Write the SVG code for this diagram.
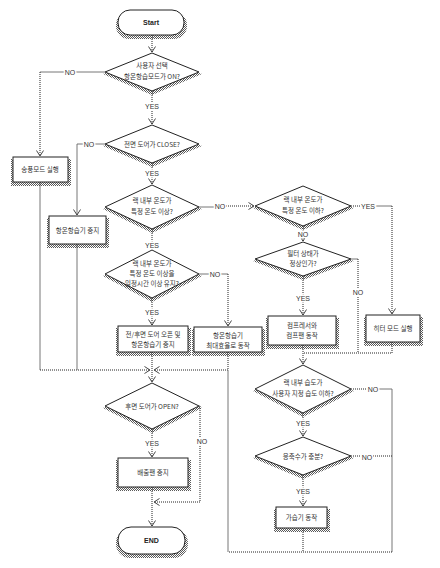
<svg xmlns="http://www.w3.org/2000/svg" width="440" height="568" viewBox="0 0 440 568">
<defs>
<pattern id="dots" width="2" height="2" patternUnits="userSpaceOnUse"><rect width="1" height="1" fill="#222"/><rect x="1" y="1" width="1" height="1" fill="#222"/></pattern>
<marker id="ar" markerWidth="8" markerHeight="8" refX="6" refY="4" orient="auto" markerUnits="userSpaceOnUse"><path d="M0.5,0.5 L6,4 L0.5,7.5" fill="none" stroke="#333" stroke-width="0.9"/></marker>
</defs>
<style>
.sh{fill:url(#dots);opacity:0.75}
.nd{fill:#fff;stroke:#222;stroke-width:1}
.t{font-family:"Noto Sans CJK KR","Noto Sans",sans-serif;font-size:6.5px;fill:#333;text-anchor:middle}
.b{font-family:"Liberation Sans",sans-serif;font-size:7px;font-weight:bold;fill:#222;text-anchor:middle}
.l{font-family:"Liberation Sans",sans-serif;font-size:7px;fill:#333;text-anchor:middle;stroke:#fff;stroke-width:3;paint-order:stroke}
.c{fill:none;stroke:#666;stroke-width:0.9}
.d{fill:none;stroke:#222;stroke-width:1;stroke-dasharray:1 1}
</style>
<rect width="440" height="568" fill="#fff"/>
<g id="connectors">
<path class="d" d="M152,35 V52" marker-end="url(#ar)"/>
<path class="d" d="M152,91 V124" marker-end="url(#ar)"/>
<path class="d" d="M152,163 V184" marker-end="url(#ar)"/>
<path class="d" d="M152,229 V249" marker-end="url(#ar)"/>
<path class="d" d="M152,298 V325" marker-end="url(#ar)"/>
<path class="d" d="M152,352 V382" marker-end="url(#ar)"/>
<path class="d" d="M152,429 V457" marker-end="url(#ar)"/>
<path class="d" d="M152,487 V526" marker-end="url(#ar)"/>
<path class="c" d="M105,72 H40"/>
<path class="d" d="M40,72 V156" marker-end="url(#ar)"/>
<path class="c" d="M40,182 V370"/>
<path class="d" d="M40,370 H150" marker-end="url(#ar)"/>
<path class="c" d="M105,144 H77 V215" marker-end="url(#ar)"/>
<path class="c" d="M77,244 V370"/>
<path class="c" d="M199,207 H220"/>
<path class="d" d="M220,206 H254" marker-end="url(#ar)"/>
<path class="c" d="M199,274 H228"/>
<path class="d" d="M228,274 V326" marker-end="url(#ar)"/>
<path class="d" d="M228,352 V370 H154" marker-end="url(#ar)"/>
<path class="d" d="M351,206 H376"/>
<path class="c" d="M376,206 H392"/>
<path class="d" d="M392,206 V314" marker-end="url(#ar)"/>
<path class="d" d="M303,226 V241" marker-end="url(#ar)"/>
<path class="d" d="M303,276 V315" marker-end="url(#ar)"/>
<path class="c" d="M351,259 H358"/>
<path class="d" d="M358,259 V353"/>
<path class="d" d="M392,342 V353 H303"/>
<path class="d" d="M303,345 V364" marker-end="url(#ar)"/>
<path class="d" d="M303,413 V436" marker-end="url(#ar)"/>
<path class="d" d="M303,475 V506" marker-end="url(#ar)"/>
<path class="d" d="M351,389 H375"/>
<path class="c" d="M375,389 H392 V552"/>
<path class="d" d="M351,456 H392"/>
<path class="d" d="M303,528 V552"/>
<path class="d" d="M392,552 H228"/>
<path class="c" d="M228,552 V370"/>
<path class="c" d="M199,406 H200"/>
<path class="d" d="M200,406 V502 H154" marker-end="url(#ar)"/>
<text class="l" x="70" y="74.5">NO</text>
<text class="l" x="152" y="108.5">YES</text>
<text class="l" x="89" y="146.5">NO</text>
<text class="l" x="152" y="175.5">YES</text>
<text class="l" x="220" y="208.5">NO</text>
<text class="l" x="152" y="247.5">YES</text>
<text class="l" x="215" y="276.5">NO</text>
<text class="l" x="152" y="314.5">YES</text>
<text class="l" x="152" y="445.5">YES</text>
<text class="l" x="202" y="443.5">NO</text>
<text class="l" x="368" y="208.5">YES</text>
<text class="l" x="303" y="236.5">NO</text>
<text class="l" x="358" y="294.5">NO</text>
<text class="l" x="303" y="300.5">YES</text>
<text class="l" x="373" y="391.5">NO</text>
<text class="l" x="303" y="425.5">YES</text>
<text class="l" x="367" y="459.5">NO</text>
<text class="l" x="303" y="493.5">YES</text>
</g>
<g id="start">
<rect class="sh" x="116" y="12" width="71" height="27" rx="13"/>
<rect class="nd" x="118" y="10" width="66" height="25" rx="12"/>
<text class="b" x="151" y="25">Start</text>
</g>
<g id="d1">
<polygon class="sh" points="103,74 152,55 202,74 152,95"/>
<polygon class="nd" points="105,72 152,53 199,72 152,91"/>
<text class="t" x="152" y="68">사용자 선택</text>
<text class="t" x="152" y="79">항온항습모드가 ON?</text>
</g>
<g id="fan-mode">
<rect class="sh" x="11" y="159" width="60" height="27"/>
<rect class="nd" x="13" y="157" width="55" height="25"/>
<text class="t" x="40" y="172">송풍모드 실행</text>
</g>
<g id="d2">
<polygon class="sh" points="103,146 152,127 202,146 152,167"/>
<polygon class="nd" points="105,144 152,125 199,144 152,163"/>
<text class="t" x="152" y="146.5">전면 도어가 CLOSE?</text>
</g>
<g id="hvac-stop">
<rect class="sh" x="47" y="218" width="62" height="30"/>
<rect class="nd" x="49" y="216" width="57" height="28"/>
<text class="t" x="77.5" y="232.5">항온항습기 중지</text>
</g>
<g id="d3">
<polygon class="sh" points="103,209 152,187 202,209 152,233"/>
<polygon class="nd" points="105,207 152,185 199,207 152,229"/>
<text class="t" x="152" y="203">랙 내부 온도가</text>
<text class="t" x="152" y="214">특정 온도 이상?</text>
</g>
<g id="d4">
<polygon class="sh" points="103,276 152,252 202,276 152,302"/>
<polygon class="nd" points="105,274 152,250 199,274 152,298"/>
<text class="t" x="152" y="266">랙 내부 온도가</text>
<text class="t" x="152" y="276">특정 온도 이상을</text>
<text class="t" x="152" y="286">일정시간 이상 유지?</text>
</g>
<g id="door-open">
<rect class="sh" x="116" y="328" width="75" height="28"/>
<rect class="nd" x="118" y="326" width="70" height="26"/>
<text class="t" x="153" y="337">전/후면 도어 오픈 및</text>
<text class="t" x="153" y="347">항온항습기 중지</text>
</g>
<g id="hvac-max">
<rect class="sh" x="192" y="329" width="73" height="27"/>
<rect class="nd" x="194" y="327" width="68" height="25"/>
<text class="t" x="228" y="337.5">항온항습기</text>
<text class="t" x="228" y="347.5">최대효율로 동작</text>
</g>
<g id="d5">
<polygon class="sh" points="103,408 152,385 202,408 152,433"/>
<polygon class="nd" points="105,406 152,383 199,406 152,429"/>
<text class="t" x="152" y="408.5">후면 도어가 OPEN?</text>
</g>
<g id="exhaust-stop">
<rect class="sh" x="116" y="460" width="75" height="31"/>
<rect class="nd" x="118" y="458" width="70" height="29"/>
<text class="t" x="153" y="475">배출팬 중지</text>
</g>
<g id="end">
<rect class="sh" x="116" y="529" width="72" height="29" rx="14"/>
<rect class="nd" x="118" y="527" width="67" height="27" rx="13"/>
<text class="b" x="151.5" y="543">END</text>
</g>
<g id="dr1">
<polygon class="sh" points="253,208 303,188 354,208 303,230"/>
<polygon class="nd" points="255,206 303,186 351,206 303,226"/>
<text class="t" x="303" y="202">랙 내부 온도가</text>
<text class="t" x="303" y="213">특정 온도 이하?</text>
</g>
<g id="heater">
<rect class="sh" x="364" y="317" width="59" height="29"/>
<rect class="nd" x="366" y="315" width="54" height="27"/>
<text class="t" x="393" y="331">히터 모드 실행</text>
</g>
<g id="dr2">
<polygon class="sh" points="253,261 303,244 354,261 303,280"/>
<polygon class="nd" points="255,259 303,242 351,259 303,276"/>
<text class="t" x="303" y="256">필터 상태가</text>
<text class="t" x="303" y="266">정상인가?</text>
</g>
<g id="compressor">
<rect class="sh" x="266" y="318" width="73" height="31"/>
<rect class="nd" x="268" y="316" width="68" height="29"/>
<text class="t" x="302" y="328">컴프레서와</text>
<text class="t" x="302" y="338">컴프팬 동작</text>
</g>
<g id="dr3">
<polygon class="sh" points="253,391 303,367 354,391 303,417"/>
<polygon class="nd" points="255,389 303,365 351,389 303,413"/>
<text class="t" x="303" y="385">랙 내부 습도가</text>
<text class="t" x="303" y="396">사용자 지정 습도 이하?</text>
</g>
<g id="dr4">
<polygon class="sh" points="253,458 303,439 354,458 303,479"/>
<polygon class="nd" points="255,456 303,437 351,456 303,475"/>
<text class="t" x="303" y="458.5">응축수가 충분?</text>
</g>
<g id="humidifier">
<rect class="sh" x="274" y="509" width="56" height="23"/>
<rect class="nd" x="276" y="507" width="51" height="21"/>
<text class="t" x="301.5" y="520">가습기 동작</text>
</g>
</svg>
